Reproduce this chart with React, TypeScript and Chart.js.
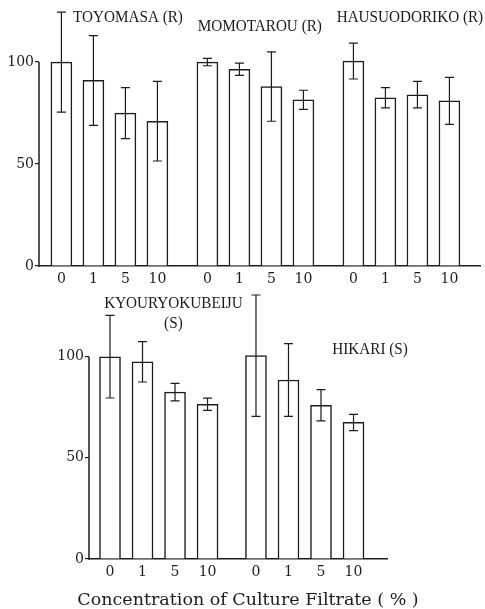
import React, { useEffect, useRef } from "react";
import { Chart, registerables } from "chart.js";

Chart.register(...registerables);

// ---------- data ----------
const CONCENTRATIONS = ["0", "1", "5", "10"];

const TOP_CULTIVARS = ["TOYOMASA (R)", "MOMOTAROU (R)", "HAUSUODORIKO (R)"];
const TOYOMASA = [100, 91, 75, 71];
const TOYOMASA_ERR = [24.5, 22, 12.5, 19.5];
const MOMOTAROU = [100, 96.5, 88, 81.5];
const MOMOTAROU_ERR = [1.8, 3, 17, 4.7];
const HAUSUODORIKO = [100.5, 82.5, 84, 81];
const HAUSUODORIKO_ERR = [8.8, 5, 6.5, 11.5];

const BOTTOM_CULTIVARS = ["KYOURYOKUBEIJU (S)", "HIKARI (S)"];
const KYOURYOKUBEIJU = [100, 97.5, 82.5, 76.5];
const KYOURYOKUBEIJU_ERR = [20.4, 10, 4.3, 3];
const HIKARI = [100.5, 88.5, 76, 67.5];
const HIKARI_ERR = [30, 18, 7.7, 4];

const Y_TICKS = [0, 50, 100];
const Y_AXIS_TOP = 100;
const X_TITLE = "Concentration of Culture Filtrate ( % )";

// ---------- styles / layout ----------
const INK = "#1c1c1c";
const X_TICK_FONT = { family: "'DejaVu Serif', serif", size: 14 };
const Y_TICK_FONT = { family: "'DejaVu Serif', serif", size: 14, lineHeight: 0.4 };
const NAME_FONT = "16px 'Liberation Serif', serif";
const NAME_SCALE_X = 0.95;
const TITLE_FONT = "17.5px 'DejaVu Serif', serif";

type NameLayout = { x: number; y: number; wrap?: boolean };

type PanelSpec = {
  names: string[];
  values: number[][];
  errors: number[][];
  top: number;
  height: number;
  padLeft: number;
  yAxisWidth: number;
  padRight: number;
  padTop: number;
  xAxisHeight: number;
  yMax: number;
  xMin: number;
  xMax: number;
  stride: number;
  barThickness: number;
  nameLayout: NameLayout[];
  title?: { x: number; y: number };
};

const TOP_PANEL: PanelSpec = {
  names: TOP_CULTIVARS,
  values: [TOYOMASA, MOMOTAROU, HAUSUODORIKO],
  errors: [TOYOMASA_ERR, MOMOTAROU_ERR, HAUSUODORIKO_ERR],
  top: 0,
  height: 290,
  padLeft: 0,
  yAxisWidth: 39,
  padRight: 5,
  padTop: 5,
  xAxisHeight: 24,
  yMax: 128,
  xMin: -0.7,
  xMax: 13.08,
  stride: 4.5625,
  barThickness: 21,
  nameLayout: [
    { x: 2.08, y: 121.6 },
    { x: 6.2, y: 117.2 },
    { x: 10.89, y: 121.6 },
  ],
};

const BOTTOM_PANEL: PanelSpec = {
  names: BOTTOM_CULTIVARS,
  values: [KYOURYOKUBEIJU, HIKARI],
  errors: [KYOURYOKUBEIJU_ERR, HIKARI_ERR],
  top: 290,
  height: 319,
  padLeft: 50,
  yAxisWidth: 39,
  padRight: 98,
  padTop: 4,
  xAxisHeight: 50,
  yMax: 131,
  xMin: -0.646,
  xMax: 8.52,
  stride: 4.49,
  barThickness: 21,
  nameLayout: [
    { x: 1.95, y: 126.1, wrap: true },
    { x: 8.0, y: 103.4 },
  ],
  title: { x: 248, y: 310 },
};

const decorPlugin = {
  id: "panelDecor",
  afterDraw(chart: any) {
    const spec: PanelSpec = chart.options.plugins.panelDecor.spec;
    const ctx = chart.ctx as CanvasRenderingContext2D;
    const xs = chart.scales.x;
    const ys = chart.scales.y;
    ctx.save();
    // y axis line from 0 to 100
    const axisX = chart.chartArea.left;
    const y0 = ys.getPixelForValue(0);
    const y100 = ys.getPixelForValue(Y_AXIS_TOP);
    ctx.fillStyle = INK;
    ctx.fillRect(axisX - 0.75, y100, 1.5, y0 - y100 + 0.75);

    // error bars
    ctx.strokeStyle = INK;
    ctx.lineWidth = 1.2;
    chart.data.datasets.forEach((ds: any, di: number) => {
      const meta = chart.getDatasetMeta(di);
      meta.data.forEach((el: any, i: number) => {
        const v = ds.data[i].y;
        const e = ds.errors[i];
        const x = el.x;
        const yTop = ys.getPixelForValue(v + e);
        const yBot = ys.getPixelForValue(v - e);
        ctx.beginPath();
        ctx.moveTo(x, yTop);
        ctx.lineTo(x, yBot);
        ctx.moveTo(x - 4.5, yTop);
        ctx.lineTo(x + 4.5, yTop);
        ctx.moveTo(x - 4.5, yBot);
        ctx.lineTo(x + 4.5, yBot);
        ctx.stroke();
      });
    });

    // cultivar names
    ctx.fillStyle = INK;
    ctx.font = NAME_FONT;
    ctx.textAlign = "center";
    ctx.textBaseline = "middle";
    spec.names.forEach((name, gi) => {
      const lay = spec.nameLayout[gi];
      const cx = xs.getPixelForValue(lay.x);
      const cy = ys.getPixelForValue(lay.y);
      const lines = lay.wrap ? name.split(" ") : [name];
      lines.forEach((line, li) => {
        ctx.save();
        ctx.translate(cx, cy + li * 20);
        ctx.scale(NAME_SCALE_X, 1);
        ctx.fillText(line, 0, 0);
        ctx.restore();
      });
    });

    // axis title
    if (spec.title) {
      ctx.font = TITLE_FONT;
      ctx.fillText(X_TITLE, spec.title.x, spec.title.y);
    }
    ctx.restore();
  },
};

function Panel({ spec }: { spec: PanelSpec }) {
  const ref = useRef<HTMLCanvasElement | null>(null);
  useEffect(() => {
    if (!ref.current) return;
    const positions: number[] = [];
    const datasets = spec.values.map((vals, gi) => {
      const data = vals.map((v, i) => {
        const x = gi * spec.stride + i;
        positions.push(x);
        return { x, y: v };
      });
      return {
        label: spec.names[gi],
        data,
        errors: spec.errors[gi],
        backgroundColor: "#ffffff",
        borderColor: INK,
        borderWidth: 1.5,
        barThickness: spec.barThickness,
        grouped: false,
      } as any;
    });
    const chart = new Chart(ref.current, {
      type: "bar",
      data: { datasets },
      plugins: [decorPlugin],
      options: {
        animation: false,
        responsive: false,
        devicePixelRatio: 1,
        layout: {
          autoPadding: false,
          padding: { left: spec.padLeft, right: spec.padRight, top: spec.padTop, bottom: 0 },
        },
        plugins: {
          legend: { display: false },
          tooltip: { enabled: false },
          panelDecor: { spec },
        } as any,
        scales: {
          x: {
            type: "linear",
            offset: false,
            min: spec.xMin,
            max: spec.xMax,
            grid: { display: false, drawTicks: false },
            border: { display: true, color: INK, width: 1.5 },
            afterBuildTicks: (scale: any) => {
              scale.ticks = positions.map((value) => ({ value }));
            },
            afterFit: (scale: any) => {
              scale.height = spec.xAxisHeight;
            },
            ticks: {
              autoSkip: false,
              maxRotation: 0,
              padding: 5,
              color: INK,
              font: X_TICK_FONT,
              callback: (_v: any, index: number) => CONCENTRATIONS[index % CONCENTRATIONS.length],
            },
          },
          y: {
            type: "linear",
            min: 0,
            max: spec.yMax,
            grid: {
              display: true,
              drawOnChartArea: false,
              drawTicks: true,
              tickLength: 4,
              color: INK,
              lineWidth: 1.2,
            },
            border: { display: false },
            afterBuildTicks: (scale: any) => {
              scale.ticks = Y_TICKS.map((value) => ({ value }));
            },
            afterFit: (scale: any) => {
              scale.width = spec.yAxisWidth;
            },
            ticks: {
              padding: 1,
              color: INK,
              font: Y_TICK_FONT,
            },
          },
        },
      } as any,
    });
    return () => chart.destroy();
  }, [spec]);
  return (
    <canvas
      ref={ref}
      width={485}
      height={spec.height}
      style={{ position: "absolute", left: 0, top: spec.top, width: 485, height: spec.height, display: "block" }}
    />
  );
}

export default function App() {
  return (
    <div style={{ position: "absolute", left: 0, top: 0, width: 485, height: 609, background: "#fff" }}>
      <Panel spec={TOP_PANEL} />
      <Panel spec={BOTTOM_PANEL} />
    </div>
  );
}
